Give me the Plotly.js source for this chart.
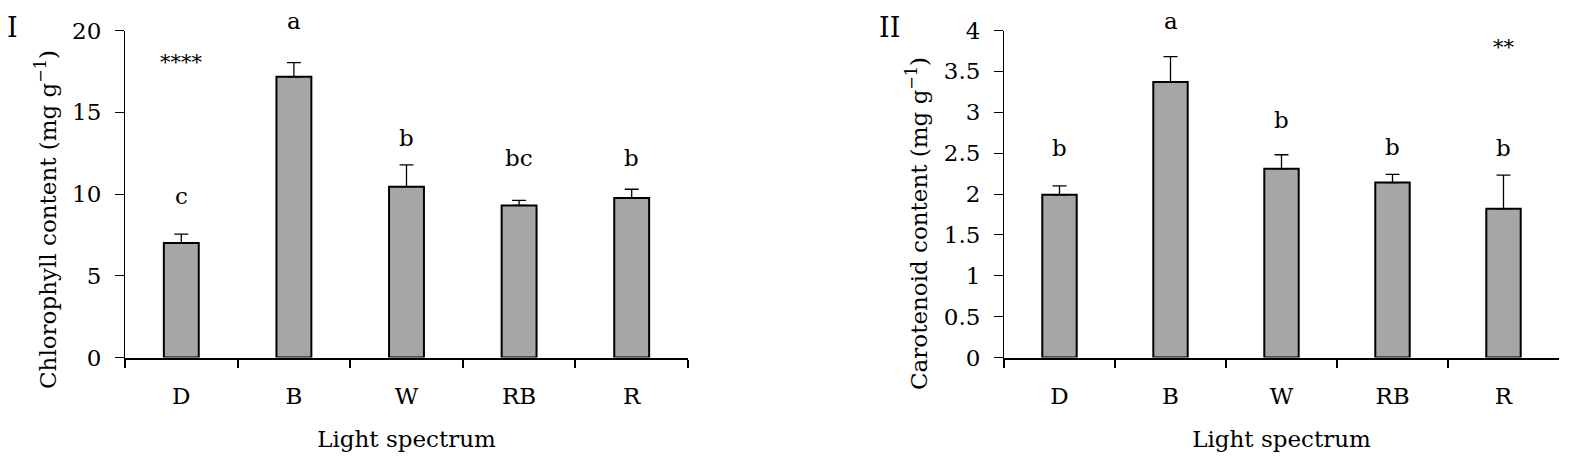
<!DOCTYPE html>
<html>
<head>
<meta charset="utf-8">
<script src="https://cdn.plot.ly/plotly-3.0.1.min.js"></script>
<style>html,body{margin:0;padding:0;background:#fff;}#chart{width:1571px;height:466px;}</style>
</head>
<body>
<div id="chart"></div>
<script>
// Data
const categories = ["D", "B", "W", "RB", "R"];
const chlorophyll = [7.00, 17.17, 10.45, 9.30, 9.75];
const chlorophyllErr = [0.55, 0.86, 1.33, 0.31, 0.54];
const chlorophyllLetters = ["c", "a", "b", "bc", "b"];
const chlorophyllLetterY = [9.85, 20.6, 13.4, 12.2, 12.2];
const carotenoid = [1.99, 3.37, 2.31, 2.14, 1.82];
const carotenoidErr = [0.11, 0.31, 0.17, 0.10, 0.41];
const carotenoidLetters = ["b", "a", "b", "b", "b"];
const carotenoidLetterY = [2.56, 4.12, 2.91, 2.58, 2.56];
const chlTicks = [0, 5, 10, 15, 20];
const carTicks = [0, 0.5, 1, 1.5, 2, 2.5, 3, 3.5, 4];
const carTickText = ["0", "0.5", "1", "1.5", "2", "2.5", "3", "3.5", "4"];
const yTitles = ["Chlorophyll content (mg g<sup>−1</sup>)", "Carotenoid content (mg g<sup>−1</sup>)"];
const xTitle = "Light spectrum";
const panelLabels = ["I", "II"];

const FONT = "DejaVu Serif, serif";
const FS = 23;
const BAR_FILL = "#a6a6a6";
const PLOT_TOP = 30.5, PLOT_BOTTOM = 357.5;
const plotH = PLOT_BOTTOM - PLOT_TOP;
const W = 1571, H = 466;

function barTrace(y, err, xa, ya) {
  return {
    type: "bar", x: categories, y: y, xaxis: xa, yaxis: ya,
    width: 0.31,
    marker: {color: BAR_FILL, line: {color: "#000", width: 2}},
    error_y: {type: "data", symmetric: false, array: err, arrayminus: err.map(() => 0),
              color: "#000", thickness: 1.3, width: 7},
    hoverinfo: "skip", showlegend: false
  };
}

const traces = [
  barTrace(chlorophyll, chlorophyllErr, "x", "y"),
  barTrace(carotenoid, carotenoidErr, "x2", "y2")
];

const annotations = [];
function letterAnn(c, v, txt, xr, yr, top) {
  // keep the anchor inside the axis range; shift in pixels for values above the top
  const inY = Math.min(v, top);
  const shift = (v - inY) / top * plotH;
  return {x: c, y: inY, yshift: shift, xref: xr, yref: yr, text: txt, showarrow: false,
          xanchor: "center", yanchor: "middle",
          font: {family: FONT, size: FS, color: "#000"}};
}
categories.forEach((c, i) => {
  annotations.push(letterAnn(c, chlorophyllLetterY[i], chlorophyllLetters[i], "x", "y", 20));
  annotations.push(letterAnn(c, carotenoidLetterY[i], carotenoidLetters[i], "x2", "y2", 4));
});
annotations.push({x: "D", y: 18.1, xref: "x", yref: "y", text: "****", showarrow: false,
  xanchor: "center", yanchor: "middle", font: {family: FONT, size: 21, color: "#000"}});
annotations.push({x: "R", y: 3.80, xref: "x2", yref: "y2", text: "**", showarrow: false,
  xanchor: "center", yanchor: "middle", font: {family: FONT, size: 21, color: "#000"}});
// panel labels
annotations.push({x: 13/W, y: 1 - 28/H, xref: "paper", yref: "paper", xanchor: "center", yanchor: "middle",
  text: panelLabels[0], showarrow: false, font: {family: FONT, size: 27, color: "#000"}});
annotations.push({x: 890/W, y: 1 - 28/H, xref: "paper", yref: "paper", xanchor: "center", yanchor: "middle",
  text: panelLabels[1], showarrow: false, font: {family: FONT, size: 27, color: "#000"}});
// y-axis titles
annotations.push({x: 46/W, y: 1 - 220/H, xref: "paper", yref: "paper", xanchor: "center", yanchor: "middle",
  textangle: -90, text: yTitles[0], showarrow: false, font: {family: FONT, size: FS, color: "#000"}});
annotations.push({x: 917/W, y: 1 - 224/H, xref: "paper", yref: "paper", xanchor: "center", yanchor: "middle",
  textangle: -90, text: yTitles[1], showarrow: false, font: {family: FONT, size: FS, color: "#000"}});

const yDom = [(H - PLOT_BOTTOM) / H, (H - PLOT_TOP) / H];

function xAxis(dom) {
  return {
    domain: dom, range: [-0.5, 4.5], type: "category",
    showline: true, linecolor: "#000", linewidth: 2,
    ticks: "outside", tickson: "boundaries", ticklen: 8, tickwidth: 2, tickcolor: "#000",
    showgrid: false, zeroline: false, fixedrange: true,
    tickfont: {family: FONT, size: FS, color: "#000"}, ticklabelstandoff: 17,
    title: {text: xTitle, font: {family: FONT, size: FS, color: "#000"}, standoff: 23}
  };
}
function yAxis(range, tv, tt, anchor) {
  return {
    domain: yDom, range: range, anchor: anchor,
    showline: true, linecolor: "#000", linewidth: 1,
    ticks: "outside", ticklen: 9, tickwidth: 1, tickcolor: "#000",
    tickvals: tv, ticktext: tt,
    showgrid: false, zeroline: false, fixedrange: true,
    tickfont: {family: FONT, size: FS, color: "#000"}, ticklabelstandoff: 9
  };
}

const layout = {
  width: W, height: H,
  margin: {l: 0, r: 0, t: 0, b: 0},
  paper_bgcolor: "#fff", plot_bgcolor: "#fff",
  xaxis: Object.assign(xAxis([125/W, 688/W]), {anchor: "y"}),
  xaxis2: Object.assign(xAxis([1004/W, 1559/W]), {anchor: "y2"}),
  yaxis: yAxis([0, 20], chlTicks, chlTicks.map(String), "x"),
  yaxis2: yAxis([0, 4], carTicks, carTickText, "x2"),
  annotations: annotations,
  bargap: 0.69
};

Plotly.newPlot("chart", traces, layout, {displayModeBar: false, staticPlot: true});
</script>
</body>
</html>
